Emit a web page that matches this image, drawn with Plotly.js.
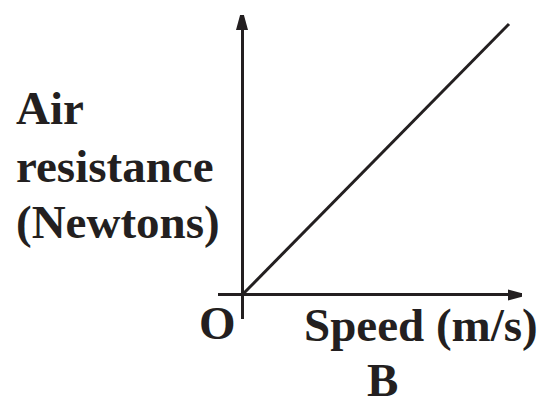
<!DOCTYPE html>
<html>
<head>
<meta charset="utf-8">
<script src="https://cdn.plot.ly/plotly-3.0.1.min.js"></script>
<style>html,body{margin:0;padding:0;background:#fff;}</style>
</head>
<body>
<div id="chart" style="width:548px;height:401px;"></div>
<script>
// Data: air resistance grows linearly with speed (arbitrary units)
var speed = [0, 10];
var resistance = [0, 10];

// Text labels
var yLabelLines = ["Air", "resistance", "(Newtons)"];
var xLabel = "Speed (m/s)";
var originLabel = "O";
var panelLabel = "B";

var ink = "#231f20";
var W = 548, H = 401;
var M = {l: 218, r: 26, t: 15, b: 82};
var plotW = W - M.l - M.r, plotH = H - M.t - M.b;
function px(x) { return (x - M.l) / plotW; }
function py(y) { return (H - M.b - y) / plotH; }

var xRange = [-0.899, 10.487];
var yRange = [-0.886, 10.332];

var font = {family: "Liberation Serif, Times New Roman, serif", size: 47, color: ink};

var annotations = [];
var yLabelMid = [108, 166, 222];
yLabelLines.forEach(function (t, i) {
  annotations.push({text: "<b>" + t + "</b>", xref: "paper", yref: "paper",
    x: px(14), y: py(yLabelMid[i]), xanchor: "left", yanchor: "middle",
    showarrow: false, font: font});
});
annotations.push({text: "<b>" + originLabel + "</b>", xref: "paper", yref: "paper",
  x: px(217.5), y: py(323), xanchor: "center", yanchor: "middle", showarrow: false, font: font});
annotations.push({text: "<b>" + xLabel + "</b>", xref: "paper", yref: "paper",
  x: px(420.5), y: py(325), xanchor: "center", yanchor: "middle", showarrow: false, font: font});
annotations.push({text: "<b>" + panelLabel + "</b>", xref: "paper", yref: "paper",
  x: px(382), y: py(380), xanchor: "center", yanchor: "middle", showarrow: false, font: font});

var shapes = [
  // y-axis arrowhead
  {type: "path", xref: "x", yref: "y", xsizemode: "pixel", ysizemode: "pixel",
   xanchor: 0, yanchor: yRange[1], path: "M0,7 L-6,-15 L6,-15 Z",
   fillcolor: ink, line: {width: 0}},
  // x-axis arrowhead
  {type: "path", xref: "x", yref: "y", xsizemode: "pixel", ysizemode: "pixel",
   xanchor: xRange[1], yanchor: 0, path: "M7,0 L-14,5.5 L-14,-5.5 Z",
   fillcolor: ink, line: {width: 0}}
];

var axisCommon = {showgrid: false, showticklabels: false, ticks: "", zeroline: true,
  zerolinewidth: 3, zerolinecolor: ink, showline: false, fixedrange: true};

Plotly.newPlot("chart", [{
  x: speed, y: resistance, mode: "lines", type: "scatter",
  line: {color: ink, width: 3}, hoverinfo: "none"
}], {
  width: W, height: H, margin: M,
  paper_bgcolor: "#fff", plot_bgcolor: "#fff", showlegend: false,
  xaxis: Object.assign({range: xRange}, axisCommon),
  yaxis: Object.assign({range: yRange}, axisCommon),
  annotations: annotations, shapes: shapes
}, {staticPlot: true});
</script>
</body>
</html>
